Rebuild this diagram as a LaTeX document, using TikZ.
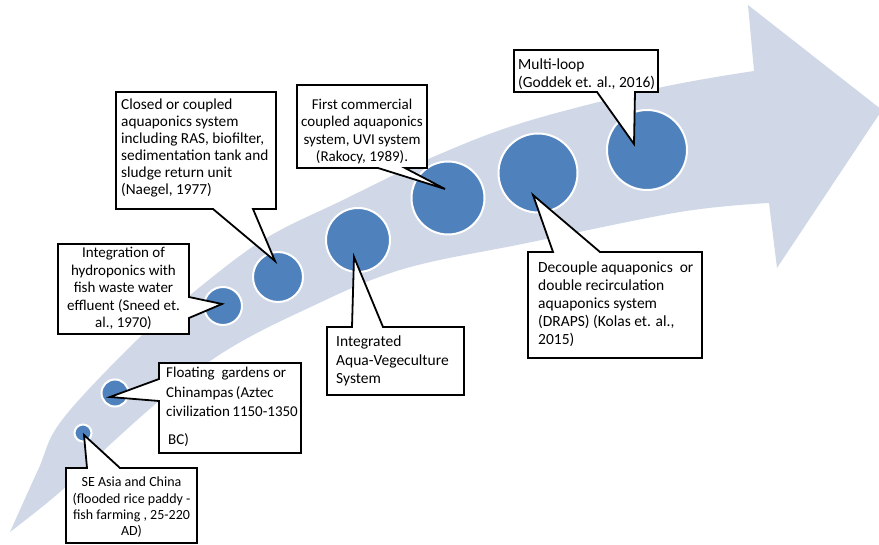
\documentclass[tikz,border=0pt]{standalone}
\usepackage{fontspec}
\setmainfont{Carlito}
\definecolor{bandblue}{RGB}{208,216,232}
\definecolor{dotblue}{RGB}{79,129,189}
\begin{document}
\begin{tikzpicture}[x=1pt,y=-1pt,
  dot/.style={circle,fill=dotblue,draw=white,line width=2pt,inner sep=0pt,minimum size=#1},
  callout/.style={draw=black,fill=white,line width=1.8pt,line join=miter},
  lbl/.style={inner sep=0pt,text=black}]
\useasboundingbox (0,0) rectangle (879,545);

% curved timeline arrow
\fill[bandblue] plot[smooth,tension=0.6] coordinates {(10,532) (38,470) (62,420) (137,340) (190,295) (263,240) (343,200) (433,157) (525,122) (658,88) (754,71)}
  -- (748,5) -- (882,110) -- (777,268) -- (769,203)
  -- plot[smooth,tension=0.6] coordinates {(769,203) (680,212) (527,243) (400,270) (300,312) (227,350) (170,392) (115,440) (60,492) (10,532)} -- cycle;

% milestones
\node[dot=17pt] (c1) at (83,433) {};
\node[dot=27pt] (c2) at (115,393) {};
\node[dot=38pt] (c3) at (223,306) {};
\node[dot=50pt] (c4) at (278,277) {};
\node[dot=64pt] (c5) at (358,240) {};
\node[dot=73pt] (c6) at (448,198) {};
\node[dot=79pt] (c7) at (538,173) {};
\node[dot=80pt] (c8) at (647,150) {};

% pointer tips
\coordinate (p1) at (84,435);
\coordinate (p2) at (110,397);
\coordinate (p3) at (222,304);
\coordinate (p4) at (275,261);
\coordinate (p5) at (354,257);
\coordinate (p6) at (445,189);
\coordinate (p7) at (533,195);
\coordinate (p8) at (634,144);

% callout boxes
\draw[callout] (66,468) -- (87,468) -- (p1) -- (120,468) -- (197,468) -- (197,543) -- (66,543) -- cycle;
\draw[callout] (159,363) -- (301,363) -- (301,453) -- (159,453) -- (159,401) -- (p2) -- (159,379) -- cycle;
\draw[callout] (58,244) -- (189,244) -- (189,297) -- (p3) -- (189,318) -- (189,334) -- (58,334) -- cycle;
\draw[callout] (116,92) -- (276,92) -- (276,209) -- (253,209) -- (p4) -- (213,209) -- (116,209) -- cycle;
\draw[callout] (327,327) -- (352,327) -- (p5) -- (383,327) -- (464,327) -- (464,395) -- (327,395) -- cycle;
\draw[callout] (297,85) -- (427,85) -- (427,168) -- (405,168) -- (p6) -- (378,168) -- (297,168) -- cycle;
\draw[callout] (528,252) -- (553,252) -- (p7) -- (600,252) -- (702,252) -- (702,358) -- (528,358) -- cycle;
\draw[callout] (514,50) -- (658,50) -- (658,92) -- (635,92) -- (p8) -- (597,92) -- (514,92) -- cycle;

% callout texts
\node[lbl,anchor=north,align=center,font=\fontsize{14}{16.3}\selectfont] (t1) at (131.5,477)
  {SE Asia and China\\(flooded rice paddy -\\fish farming , 25-220\\AD)};
\node[lbl,anchor=north west,align=left,font=\fontsize{15}{19.5}\selectfont] (t2) at (166,367)
  {Floating\ \ gardens or\\Chinampas\,(Aztec\\civilization\,1150-1350\\[8pt]\hspace{2pt}BC)};
\node[lbl,anchor=north,align=center,font=\fontsize{15}{17.5}\selectfont] (t3) at (123.5,247)
  {Integration of\\hydroponics with\\fish waste water\\effluent (Sneed et.\\al., 1970)};
\node[lbl,anchor=north west,align=left,font=\fontsize{15.3}{17}\selectfont] (t4) at (121,99)
  {Closed or coupled\\aquaponics system\\including RAS, biofilter,\\sedimentation tank and\\sludge return unit\\(Naegel, 1977)};
\node[lbl,anchor=north west,align=left,font=\fontsize{15.5}{18.5}\selectfont] (t5) at (336,336)
  {Integrated\\Aqua-Vegeculture\\System};
\node[lbl,anchor=north,align=center,font=\fontsize{15}{17.3}\selectfont] (t6) at (362,99)
  {First commercial\\coupled aquaponics\\system, UVI system\\(Rakocy, 1989).};
\node[lbl,anchor=north west,align=left,font=\fontsize{15.5}{18}\selectfont] (t7) at (538,262)
  {Decouple aquaponics\ \ or\\double recirculation\\aquaponics system\\(DRAPS) (Kolas et. al.,\\2015)};
\node[lbl,anchor=north west,align=left,font=\fontsize{15.5}{18}\selectfont] (t8) at (518,59)
  {Multi-loop\\(Goddek et. al., 2016)};
\end{tikzpicture}
\end{document}
